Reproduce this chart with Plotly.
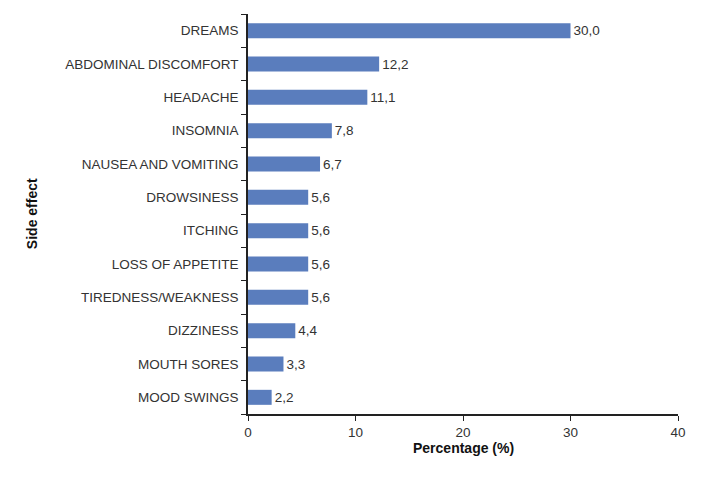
import plotly.graph_objects as go

categories = ["DREAMS", "ABDOMINAL DISCOMFORT", "HEADACHE", "INSOMNIA",
              "NAUSEA AND VOMITING", "DROWSINESS", "ITCHING", "LOSS OF APPETITE",
              "TIREDNESS/WEAKNESS", "DIZZINESS", "MOUTH SORES", "MOOD SWINGS"]
values = [30.0, 12.2, 11.1, 7.8, 6.7, 5.6, 5.6, 5.6, 5.6, 4.4, 3.3, 2.2]
x_ticks = [0, 10, 20, 30, 40]

fig = go.Figure(go.Bar(
    x=values, y=categories, orientation="h",
    marker=dict(color="#5a7dbd", line=dict(width=0)),
    width=0.45,
    texttemplate="%{x:.1f}", textposition="outside",
    textfont=dict(size=13.5, color="#333333"),
    cliponaxis=False,
))

fig.update_layout(
    width=710, height=482,
    margin=dict(l=240, r=40, t=6, b=76),
    plot_bgcolor="white", paper_bgcolor="white",
    separators=",.",
    font=dict(family="Liberation Sans, Arial, sans-serif", size=13.5, color="#333333"),
    showlegend=False,
    annotations=[
        dict(text="<b>Side effect</b>", xref="paper", yref="paper", x=-0.502, y=0.5,
             xanchor="center", yanchor="middle", textangle=-90, showarrow=False,
             font=dict(size=14, color="#111111")),
        dict(text="<b>Percentage (%)</b>", xref="paper", yref="paper", x=0.5, y=-0.085,
             xanchor="center", yanchor="middle", showarrow=False,
             font=dict(size=14, color="#111111")),
    ],
)
fig.update_xaxes(
    range=[0, 40], tickvals=x_ticks, showgrid=False, zeroline=False,
    showline=True, linecolor="#222222", linewidth=1.5,
    ticks="outside", ticklen=5, tickcolor="#222222", automargin=False,
)
fig.update_yaxes(
    categoryorder="array", categoryarray=categories[::-1],
    showgrid=False, showline=True, linecolor="#222222", linewidth=1.5,
    ticks="outside", ticklen=5, tickcolor="#222222", tickson="boundaries",
    ticklabelstandoff=5, automargin=False,
)

fig.write_html("out.html")
